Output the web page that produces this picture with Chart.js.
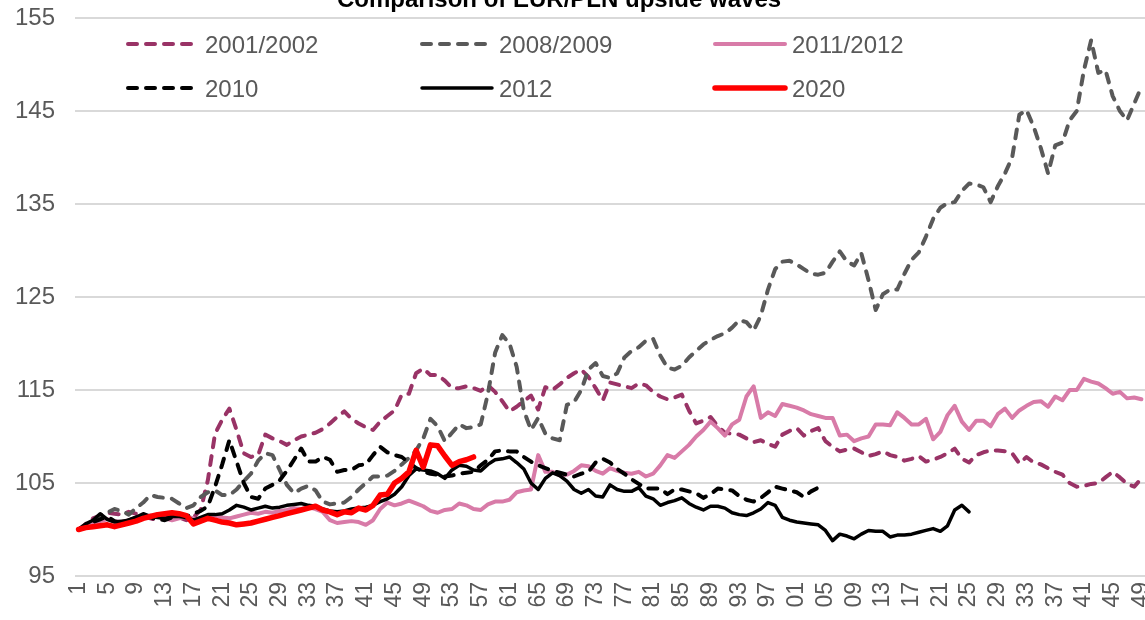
<!DOCTYPE html>
<html>
<head>
<meta charset="utf-8">
<script src="https://cdn.jsdelivr.net/npm/chart.js@4.4.1/dist/chart.umd.min.js"></script>
<style>
  html, body { margin: 0; padding: 0; background: #fff; }
  #wrap { width: 1145px; height: 620px; }
</style>
</head>
<body>
<div id="wrap"><canvas id="chart" width="1145" height="620"></canvas></div>
<script>
const chartTitle = 'Comparison of EUR/PLN upside waves';

// trading day number of each wave, 1..149
const days = Array.from({ length: 149 }, (_, i) => i + 1);

// every 4th day is labelled on the axis
const tickLabels = ['1', '5', '9', '13', '17', '21', '25', '29', '33', '37', '41', '45', '49',
  '53', '57', '61', '65', '69', '73', '77', '81', '85', '89', '93', '97', '01', '05', '09',
  '13', '17', '21', '25', '29', '33', '37', '41', '45', '49'];

const seriesNames = ['2001/2002', '2008/2009', '2011/2012', '2010', '2012', '2020'];

const wave2001 = [
  100.0, 100.6, 101.2, 101.5, 101.8, 101.7, 101.6, 101.9, 101.7, 101.4,
  101.2, 101.0, 101.3, 101.5, 101.3, 101.0, 101.3, 102.1, 105.3, 110.3,
  111.8, 113.0, 110.7, 108.2, 107.8, 108.0, 110.2, 109.8, 109.5, 109.1,
  109.6, 110.0, 110.2, 110.4, 110.8, 111.4, 112.1, 112.7, 111.9, 111.4,
  111.0, 110.7, 111.6, 112.2, 112.8, 114.5, 114.6, 116.8, 117.3, 116.6,
  116.6, 116.0, 115.2, 115.2, 115.4, 115.2, 114.9, 115.5, 114.8, 113.8,
  112.7, 113.2, 113.8, 114.4, 112.9, 115.3, 115.0, 115.6, 116.3, 116.8,
  117.2, 116.4, 115.2, 113.9, 115.8, 115.6, 115.4, 115.2, 115.7, 115.5,
  114.8, 114.3, 114.0, 114.2, 114.5, 112.8, 111.4, 111.7, 112.1, 111.1,
  110.4, 110.3, 110.2, 109.8, 109.4, 109.6, 109.2, 108.9, 110.2, 110.6,
  110.9, 110.1, 110.6, 110.9, 109.5, 108.9, 108.4, 108.6, 108.7, 108.3,
  107.9, 108.1, 108.4, 108.0, 107.8, 107.4, 107.6, 107.9, 107.3, 107.5,
  107.8, 108.2, 108.7, 107.6, 107.2, 108.0, 108.3, 108.5, 108.5, 108.4,
  108.2, 107.1, 107.8, 107.2, 107.0, 106.6, 106.2, 105.9, 105.0, 104.6,
  104.7, 104.9, 105.0, 105.6, 106.2, 105.6, 104.9, 104.6, 105.5
];

const wave2008 = [
  100.0, 100.4, 100.8, 101.5, 101.8, 102.2, 102.0, 101.6, 102.3, 102.9,
  103.7, 103.5, 103.4, 103.3, 102.8, 102.3, 102.6, 103.5, 104.0, 104.2,
  103.7, 103.7, 104.3, 105.2, 106.0, 107.4, 108.2, 108.0, 106.4, 104.8,
  103.9, 104.4, 104.7, 104.2, 103.0, 102.7, 102.8, 102.9, 103.5, 104.3,
  105.0, 105.7, 105.7, 105.8, 106.3, 107.0, 107.7, 108.5, 109.8, 111.9,
  111.1, 109.5, 110.4, 111.3, 110.9, 111.0, 111.3, 114.6, 119.0, 120.9,
  120.0, 117.5, 112.8, 110.7, 112.0, 110.3, 109.8, 109.6, 113.4, 113.7,
  115.0, 117.2, 117.9, 116.5, 116.3, 116.8, 118.5, 119.2, 119.6, 120.3,
  120.5, 118.7, 117.4, 117.2, 117.6, 118.5, 119.2, 119.9, 120.4, 120.8,
  121.1, 121.7, 122.5, 122.3, 121.4, 123.0, 125.8, 128.0, 128.8, 128.9,
  128.5, 128.0, 127.5, 127.4, 127.6, 128.8, 129.9, 128.8, 128.4, 129.7,
  126.8, 123.6, 125.3, 125.8, 125.8, 127.5, 129.0, 129.8, 131.5, 133.4,
  134.6, 135.1, 135.2, 136.4, 137.2, 137.1, 136.8, 135.2, 136.9, 138.3,
  140.0, 144.6, 145.1, 143.3, 141.0, 138.3, 141.3, 141.6, 144.0, 145.0,
  149.4, 152.6, 149.1, 149.4, 146.6, 145.0, 144.0, 145.8, 147.6
];

const wave2011 = [
  100.0, 100.3, 100.6, 100.9, 101.1, 100.9, 100.8, 101.0, 101.2, 101.3,
  101.5, 101.4, 101.2, 101.0, 101.2, 101.4, 101.2, 101.0, 101.3, 101.5,
  101.3, 101.2, 101.4, 101.6, 101.8, 101.7, 101.9, 101.8, 102.0, 102.1,
  102.3, 102.2, 102.4, 102.2, 101.9, 101.0, 100.7, 100.8, 100.9, 100.8,
  100.5, 101.0, 102.2, 102.9, 102.6, 102.8, 103.1, 102.8, 102.5, 102.0,
  101.8, 102.1, 102.2, 102.8, 102.6, 102.2, 102.1, 102.7, 103.0, 103.0,
  103.2, 104.0, 104.2, 104.3, 108.0, 106.2, 106.2, 105.8, 105.9, 106.3,
  106.9, 106.8, 106.3, 106.0, 106.6, 106.3, 106.1, 106.0, 106.2, 105.7,
  106.0, 106.9, 108.0, 107.7, 108.4, 109.1, 110.0, 110.7, 111.6, 110.9,
  110.1, 111.3, 111.8, 114.3, 115.4, 112.0, 112.6, 112.2, 113.5, 113.3,
  113.1, 112.8, 112.4, 112.2, 112.0, 112.0, 110.1, 110.2, 109.5, 109.8,
  110.0, 111.3, 111.3, 111.2, 112.6, 112.0, 111.3, 111.3, 111.9, 109.7,
  110.5, 112.3, 113.3, 111.6, 110.7, 111.7, 111.7, 111.1, 112.4, 113.0,
  112.0, 112.8, 113.3, 113.7, 113.8, 113.2, 114.3, 113.9, 115.0, 115.0,
  116.2, 115.9, 115.7, 115.2, 114.6, 114.8, 114.1, 114.2, 114.0
];

const wave2010 = [
  100.0, 100.4, 100.8, 101.1, 101.4, 100.9, 100.7, 101.0, 101.3, 101.5,
  101.3, 101.1, 101.0, 101.3, 101.5, 101.4, 101.7, 102.0, 102.5, 104.6,
  107.0, 109.6, 107.3, 105.0, 103.5, 103.3, 104.4, 104.8, 105.3, 106.3,
  107.5, 108.7, 107.3, 107.3, 107.8, 107.5, 106.2, 106.4, 106.4, 106.9,
  107.0, 108.0, 108.9, 108.3, 108.0, 107.8, 107.2, 106.6, 106.2, 106.0,
  105.9, 105.7, 105.8, 106.0, 106.1, 106.2, 106.9, 107.5, 108.4, 108.5,
  108.4, 108.4, 107.8, 107.3, 106.9, 106.6, 106.3, 106.1, 105.9, 105.7,
  106.0, 106.2, 107.2, 107.6, 107.2, 106.5, 106.0, 105.4, 104.9, 104.4,
  104.4, 104.4, 103.8, 104.3, 104.3, 104.1, 103.9, 103.4, 103.8, 104.4,
  104.3, 104.2, 103.6, 103.2, 103.0, 103.4, 104.0, 104.6, 104.4, 104.2,
  104.0, 103.5, 104.1, 104.5
];

const wave2012 = [
  100.0, 100.6, 101.0, 101.7, 101.1, 100.8, 100.9, 101.0, 101.3, 101.7,
  101.4, 101.3, 101.2, 101.4, 101.4, 101.3, 101.0, 101.3, 101.6, 101.6,
  101.7, 102.1, 102.6, 102.4, 102.1, 102.3, 102.5, 102.3, 102.4, 102.6,
  102.7, 102.8, 102.6, 102.5, 102.2, 102.0, 101.9, 102.0, 102.2, 102.3,
  102.4, 102.6, 103.0, 103.3, 103.8, 104.6, 105.8, 106.5, 106.4, 106.3,
  106.0, 105.5, 106.4, 106.9, 106.8, 106.4, 106.3, 107.0, 107.5, 107.6,
  107.8, 107.2, 106.5, 105.0, 104.3, 105.5, 106.1, 105.8, 105.2, 104.3,
  103.9, 104.3, 103.6, 103.5, 104.8, 104.3, 104.1, 104.1, 104.5, 103.6,
  103.3, 102.6, 102.9, 103.1, 103.4, 102.8, 102.4, 102.1, 102.5, 102.5,
  102.3, 101.8, 101.6, 101.5, 101.8, 102.2, 102.9, 102.6, 101.3, 101.0,
  100.8, 100.7, 100.6, 100.5, 99.9, 98.8, 99.5, 99.3, 99.0, 99.5,
  99.9, 99.8, 99.8, 99.2, 99.4, 99.4, 99.5, 99.7, 99.9, 100.1,
  99.8, 100.4, 102.1, 102.6, 101.9
];

const wave2020 = [
  100.0, 100.2, 100.3, 100.4, 100.5, 100.3, 100.5, 100.7, 100.9, 101.2,
  101.4, 101.6, 101.7, 101.8, 101.7, 101.5, 100.6, 100.9, 101.2, 101.0,
  100.8, 100.7, 100.5, 100.6, 100.7, 100.9, 101.1, 101.3, 101.5, 101.7,
  101.9, 102.1, 102.3, 102.5, 102.1, 101.9, 101.6, 101.9, 101.8, 102.3,
  102.1, 102.6, 103.7, 103.8, 105.0, 105.5, 106.2, 108.5, 106.7, 109.1,
  109.0, 107.9, 106.9, 107.3, 107.5, 107.8
];

const seriesData = [wave2001, wave2008, wave2011, wave2010, wave2012, wave2020];
const seriesColors = ['#993366', '#595959', '#d87ba8', '#000000', '#000000', '#ff0000'];
const seriesWidths = [4, 4, 4, 4, 3.5, 5.5];
const seriesDashes = [[9, 9], [9, 9], [], [9, 9], [], []];

const datasets = seriesNames.map((name, i) => ({
  label: name,
  data: seriesData[i],
  borderColor: seriesColors[i],
  backgroundColor: seriesColors[i],
  borderWidth: seriesWidths[i],
  borderDash: seriesDashes[i],
  borderCapStyle: 'round',
  borderJoinStyle: 'round',
  pointRadius: 0,
  tension: 0,
  fill: false,
  order: seriesNames.length - i
}));

// title (cut at the top edge) and a legend sitting inside the plot
const overlay = {
  id: 'overlay',
  afterDraw(chart) {
    const ctx = chart.ctx;
    ctx.save();
    ctx.font = 'bold 24px "Liberation Sans", Arial, sans-serif';
    ctx.fillStyle = '#000';
    ctx.textAlign = 'left';
    ctx.textBaseline = 'alphabetic';
    ctx.fillText(chartTitle, 337, 7);

    const cols = [128, 422, 715];
    const rows = [44, 88];
    ctx.font = '24px "Liberation Sans", Arial, sans-serif';
    chart.data.datasets.forEach((ds, i) => {
      const x = cols[i % 3];
      const y = rows[Math.floor(i / 3)];
      ctx.beginPath();
      ctx.setLineDash(ds.borderDash);
      ctx.lineCap = 'round';
      ctx.lineWidth = ds.borderWidth;
      ctx.strokeStyle = ds.borderColor;
      ctx.moveTo(x, y);
      ctx.lineTo(x + 70, y);
      ctx.stroke();
      ctx.setLineDash([]);
      ctx.fillStyle = '#595959';
      ctx.fillText(ds.label, x + 77, y + 8.5);
    });
    ctx.restore();
  }
};

new Chart(document.getElementById('chart'), {
  type: 'line',
  data: { labels: days, datasets: datasets },
  plugins: [overlay],
  options: {
    responsive: false,
    animation: false,
    layout: { padding: { top: 18, left: 0, right: 0, bottom: 0 } },
    plugins: {
      legend: { display: false },
      title: { display: false },
      tooltip: { enabled: false }
    },
    scales: {
      x: {
        offset: true,
        grid: { display: false, drawTicks: false },
        border: { display: false },
        ticks: {
          autoSkip: false,
          minRotation: 90,
          maxRotation: 90,
          padding: 6,
          color: '#595959',
          font: { family: '"Liberation Sans", Arial, sans-serif', size: 23 },
          callback: (value, index) => (index % 4 === 0 ? tickLabels[index / 4] : '')
        },
        afterFit: (scale) => {
          scale.height = 44;
          scale.paddingLeft = 0;
          scale.paddingRight = 0;
        }
      },
      y: {
        min: 95,
        max: 155,
        grid: { color: '#d9d9d9', lineWidth: 2, drawTicks: false },
        border: { display: false },
        ticks: {
          stepSize: 10,
          padding: 20,
          color: '#595959',
          font: { family: '"Liberation Sans", Arial, sans-serif', size: 24 }
        },
        afterFit: (scale) => {
          scale.width = 75;
          scale.paddingTop = 0;
          scale.paddingBottom = 0;
        }
      }
    }
  }
});
</script>
</body>
</html>
